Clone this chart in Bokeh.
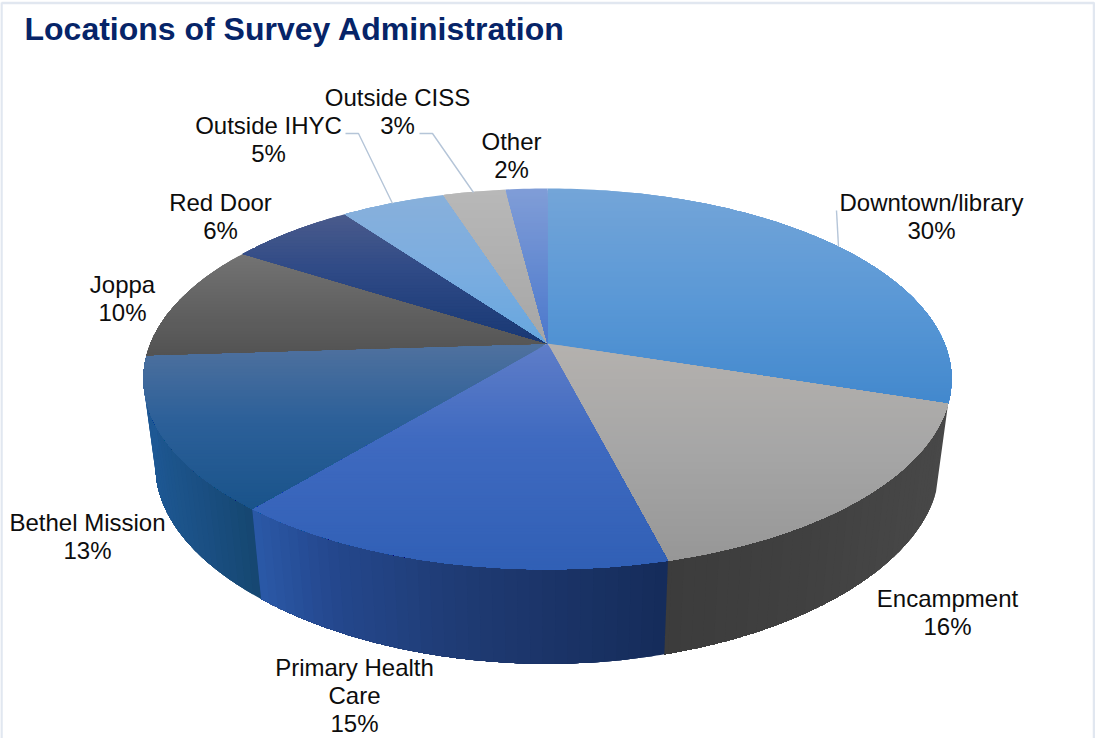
import numpy as np
from bokeh.plotting import figure
from bokeh.models import Range1d
from bokeh.core.properties import value
from bokeh.embed import file_html
from bokeh.resources import INLINE

# ---- data ----
categories = ["Downtown/library", "Encampment", "Primary Health\nCare", "Bethel Mission",
              "Joppa", "Red Door", "Outside IHYC", "Outside CISS", "Other"]
shares = [30, 16, 15, 13, 10, 6, 5, 3, 2]

# ---- styling: top-face colour stops (page y, colour) per slice ----
top_stops = [
    [(188, "#74a5d8"), (300, "#5a98d6"), (405, "#4288cd")],
    [(345, "#b4b1ae"), (450, "#a6a6a6"), (565, "#969696")],
    [(345, "#5f7dc8"), (440, "#3f6ac0"), (565, "#3160b6")],
    [(345, "#4f719e"), (420, "#2c6099"), (510, "#19538a")],
    [(254, "#737373"), (300, "#646464"), (355, "#525252")],
    [(214, "#4a5b8c"), (270, "#2f4a86"), (343, "#183874")],
    [(194, "#88b0db"), (270, "#7bade0"), (343, "#66a6de")],
    [(189, "#b8b8b8"), (343, "#a6a6a6")],
    [(189, "#809dd7"), (343, "#4b78cc")],
]
# side-face colour stops (page x, colour), only front slices show a side
side_stops = {
    1: [(665, "#3c3c3c"), (800, "#404040"), (950, "#484848")],
    2: [(250, "#2b59a8"), (330, "#24478d"), (450, "#1f3c75"), (550, "#1b3468"), (667, "#152c5a")],
    3: [(145, "#1e5894"), (170, "#1c548b"), (200, "#1a4f82"), (255, "#15466f")],
}
CX, CY = 547, 343
TOP_K, TOP_A, TOP_B = 0.186, 183.8, 397.0
BOT_KX, BOT_B = 0.186, 385.0
BOT_KY, BOT_A, BOT_C = 0.24, 175.0, 433.0
BAND = 3.0


def hex2rgb(c):
    return np.array([int(c[i:i + 2], 16) for i in (1, 3, 5)], float)


def ramp(stops, t):
    xs = [s[0] for s in stops]
    rgb = np.array([hex2rgb(s[1]) for s in stops])
    return "#%02x%02x%02x" % tuple(int(round(np.interp(t, xs, rgb[:, i]))) for i in range(3))


def top_xy(deg):
    a = np.radians(deg)
    u, v = np.sin(a), np.cos(a)
    d = 1 + TOP_K * v
    return CX + TOP_B * u / d, CY - TOP_A * v / d


def bottom_xy(deg):
    a = np.radians(deg)
    u, v = np.sin(a), np.cos(a)
    return CX + BOT_B * u / (1 + BOT_KX * v), BOT_C - BOT_A * v / (1 + BOT_KY * v)


def clip_below(poly, ylim):
    """keep the part of poly with y >= ylim"""
    out = []
    n = len(poly)
    for i in range(n):
        a, b = poly[i], poly[(i + 1) % n]
        ia, ib = a[1] >= ylim, b[1] >= ylim
        if ia:
            out.append(a)
        if ia != ib:
            t = (ylim - a[1]) / (b[1] - a[1])
            out.append((a[0] + t * (b[0] - a[0]), ylim))
    return out


edges = np.concatenate([[0], np.cumsum(shares)]) * 3.6

p = figure(width=1095, height=738, x_range=Range1d(0, 1095), y_range=Range1d(738, 0),
           output_backend="svg", toolbar_location=None, min_border=0,
           background_fill_color="white", border_fill_color="white")
p.axis.visible = False
p.grid.visible = False
p.outline_line_color = None

# frame
p.line([1, 1], [2, 738], line_color="#e1e7f0", line_width=2.5)
p.line([1, 1093.5, 1093.5], [2.5, 2.5, 738], line_color="#e1e7f0", line_width=2.5)

# side faces: painter's order, each piece runs from its angle to the slice's far end
sx, sy, sc = [], [], []
for i, stops in side_stops.items():
    lo, hi = edges[i], edges[i + 1]
    th = np.linspace(lo, hi, int((hi - lo) / 0.5) + 1)
    sa = th[::3]
    for a in sa:
        rest = th[th >= a]
        if len(rest) < 2:
            continue
        tp = [top_xy(t) for t in rest]
        bt = [bottom_xy(t) for t in rest[::-1]]
        sx.append([q[0] for q in tp + bt])
        sy.append([q[1] for q in tp + bt])
        x_mid = top_xy(a + 0.75)[0]
        sc.append(ramp(stops, x_mid))
p.patches(sx, sy, fill_color=sc, line_color=None)

# top faces: painter's order from upper to lower, one colour per horizontal band
tx, ty, tc = [], [], []
for i, stops in enumerate(top_stops):
    th = np.linspace(edges[i], edges[i + 1], max(3, int(shares[i] * 3.6 / 1.0) + 1))
    poly = [(CX, CY)] + [top_xy(t) for t in th]
    ys = [q[1] for q in poly]
    y0 = min(ys) - 1
    first = True
    while y0 < max(ys):
        piece = poly if first else clip_below(poly, y0)
        first = False
        if len(piece) >= 3:
            tx.append([q[0] for q in piece])
            ty.append([q[1] for q in piece])
            tc.append(ramp(stops, y0 + BAND / 2))
        y0 += BAND
p.patches(tx, ty, fill_color=tc, line_color=None)

# leader lines
lead = "#b5c5d8"
p.line([345, 358, 392], [133, 133, 203], line_color=lead, line_width=1.4)
p.line([419, 432, 473], [133, 133, 192], line_color=lead, line_width=1.4)
p.line([836, 838], [210, 246], line_color=lead, line_width=1.4)

# labels
label_x = [931, 947, 354, 87, 122, 220, 268, 397, 511]
label_y = [202, 598, 667, 522, 284, 202, 125, 97, 141]
LINE = 28
xs, ys, ts = [], [], []
for c, s, lx, ly in zip(categories, shares, label_x, label_y):
    lines = c.split("\n") + [f"{s}%"]
    for k, t in enumerate(lines):
        xs.append(lx)
        ys.append(ly + k * LINE)
        ts.append(t)
p.text(xs, ys, text=ts, text_font=value("Liberation Sans"), text_font_size="24px",
       text_color="#0d0d0d", text_align="center", text_baseline="middle")

p.text([24], [28], text=["Locations of Survey Administration"], text_font=value("Liberation Sans"),
       text_font_size="32px", text_font_style="bold", text_color="#062468",
       text_align="left", text_baseline="middle")

open("out.html", "w").write(file_html(p, INLINE))
